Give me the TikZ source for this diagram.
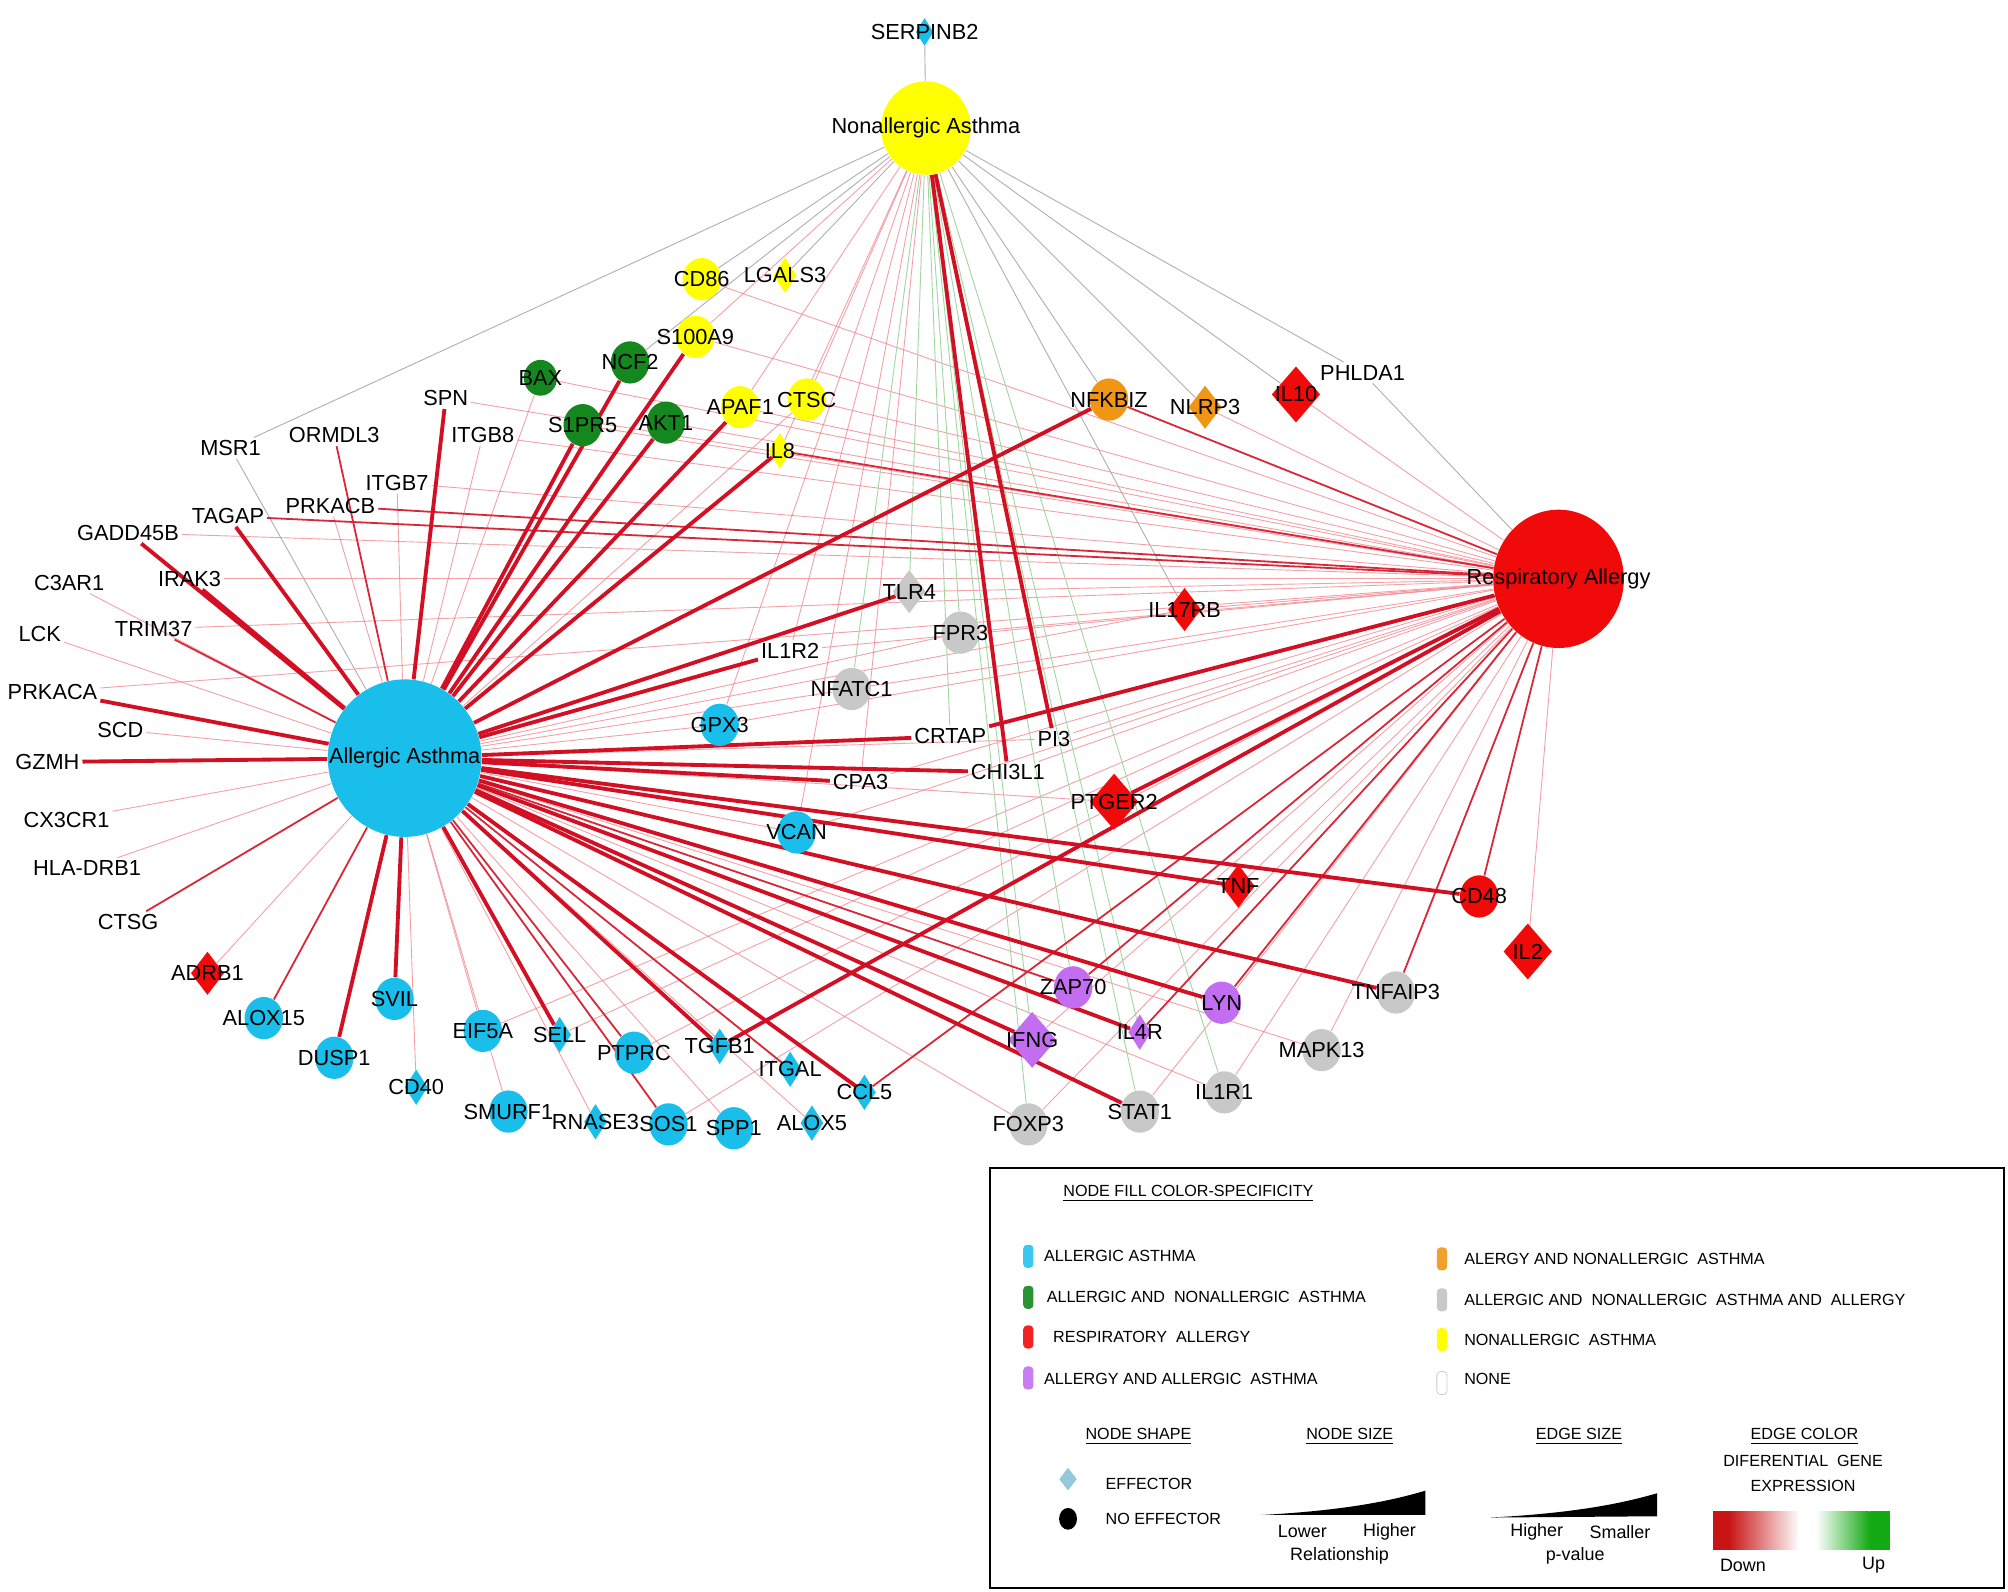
\documentclass[tikz,border=0pt]{standalone}
\usepackage{fontspec}
\setmainfont{Liberation Sans}
\usetikzlibrary{shapes.geometric}
\pgfdeclarelayer{bg}
\pgfsetlayers{bg,main}
\definecolor{cAA}{RGB}{25,190,235}
\definecolor{cGR}{RGB}{20,135,30}
\definecolor{cRD}{RGB}{240,10,10}
\definecolor{cPU}{RGB}{195,110,240}
\definecolor{cOR}{RGB}{240,150,20}
\definecolor{cGY}{RGB}{200,200,200}
\definecolor{cYE}{RGB}{255,255,0}
\definecolor{eR}{RGB}{210,15,35}
\definecolor{eP}{RGB}{240,120,130}
\definecolor{eG}{RGB}{175,175,175}
\definecolor{eGr}{RGB}{160,215,160}
\definecolor{gDown}{RGB}{200,20,20}
\definecolor{gUp}{RGB}{20,170,20}
\definecolor{effB}{RGB}{150,200,220}
\newcommand{\gnd}[4]{\node[#4] (#1) at (#2) {}; \node[lbl] (#1-l) at (#1.center) {#3};}
\begin{document}
\begin{tikzpicture}[x=0.5pt,y=-0.5pt,
  lbl/.style={font=\fontsize{8.5}{10}\selectfont, inner sep=1pt},
  lg/.style={font=\fontsize{6.3}{7}\selectfont, inner sep=0pt},
  lgs/.style={font=\fontsize{7}{8}\selectfont, inner sep=0pt},
  circ/.style={ellipse, minimum width=15pt, minimum height=16.5pt, inner sep=0pt, fill=#1},
  csm/.style={ellipse, minimum width=13pt, minimum height=14pt, inner sep=0pt, fill=#1},
  dsm/.style={diamond, minimum width=9pt, minimum height=14pt, inner sep=0pt, fill=#1},
  dmd/.style={diamond, minimum width=13pt, minimum height=17pt, inner sep=0pt, fill=#1},
  dbg/.style={diamond, minimum width=19pt, minimum height=22pt, inner sep=0pt, fill=#1},
  thk/.style={draw=eR, line width=1.5pt},
  med/.style={draw=eR!90, line width=0.7pt},
  thn/.style={draw=eP, line width=0.35pt, opacity=0.7},
  gry/.style={draw=eG, line width=0.35pt},
  grn/.style={draw=eGr, line width=0.35pt},
  swatch/.style={rounded corners=1.5pt, minimum width=4pt, minimum height=9pt, inner sep=0pt}]
\useasboundingbox (0,0) rectangle (1568,1243);
\begin{pgfonlayer}{bg}
\fill[white] (0,0) rectangle (1568,1243);
\end{pgfonlayer}

% hubs
\node[ellipse, fill=cYE, minimum width=35pt, minimum height=36.5pt, inner sep=0pt] (NA) at (723,100) {};
\node[lbl] (NA-l) at (NA.center) {Nonallergic Asthma};
\node[ellipse, fill=cAA, minimum width=60pt, minimum height=61.5pt, inner sep=0pt] (AA) at (316,592) {};
\node[lbl] (AA-l) at (AA.center) {Allergic Asthma};
\node[ellipse, fill=cRD, minimum width=51pt, minimum height=54pt, inner sep=0pt] (RA) at (1217,452) {};
\node[lbl] (RA-l) at (RA.center) {Respiratory Allergy};

% label-only nodes
\node[lbl] (PHLDA1) at (1064,291) {PHLDA1};
\node[lbl] (MSR1) at (180,350) {MSR1};
\node[lbl] (ORMDL3) at (261,340) {ORMDL3};
\node[lbl] (SPN) at (348,311) {SPN};
\node[lbl] (ITGB8) at (377,340) {ITGB8};
\node[lbl] (ITGB7) at (310,377) {ITGB7};
\node[lbl] (PRKACB) at (258,395) {PRKACB};
\node[lbl] (TAGAP) at (178,403) {TAGAP};
\node[lbl] (GADD45B) at (100,416) {GADD45B};
\node[lbl] (C3AR1) at (54,455) {C3AR1};
\node[lbl] (IRAK3) at (148,452) {IRAK3};
\node[lbl] (TRIM37) at (120,491) {TRIM37};
\node[lbl] (LCK) at (31,495) {LCK};
\node[lbl] (PRKACA) at (41,540) {PRKACA};
\node[lbl] (SCD) at (94,570) {SCD};
\node[lbl] (GZMH) at (37,595) {GZMH};
\node[lbl] (CX3CR1) at (52,640) {CX3CR1};
\node[lbl] (HLADRB1) at (68,678) {HLA-DRB1};
\node[lbl] (CTSG) at (100,720) {CTSG};
\node[lbl] (IL1R2) at (617,508) {IL1R2};
\node[lbl] (CRTAP) at (742,575) {CRTAP};
\node[lbl] (PI3) at (823,577) {PI3};
\node[lbl] (CHI3L1) at (787,603) {CHI3L1};
\node[lbl] (CPA3) at (672,611) {CPA3};

% shaped nodes
\gnd{SERPINB2}{722,25}{SERPINB2}{diamond, minimum width=7pt, minimum height=11pt, inner sep=0pt, fill=cAA}
\gnd{CD86}{548,218}{CD86}{circ=cYE}
\gnd{LGALS3}{613,215}{LGALS3}{dsm=cYE}
\gnd{S100A9}{543,263}{S100A9}{circ=cYE}
\gnd{APAF1}{578,318}{APAF1}{circ=cYE}
\gnd{CTSC}{630,312}{CTSC}{circ=cYE}
\gnd{IL8}{609,352}{IL8}{dsm=cYE}
\gnd{BAX}{422,295}{BAX}{csm=cGR}
\gnd{NCF2}{492,283}{NCF2}{circ=cGR}
\gnd{S1PR5}{455,332}{S1PR5}{circ=cGR}
\gnd{AKT1}{520,330}{AKT1}{circ=cGR}
\gnd{NFKBIZ}{866,312}{NFKBIZ}{circ=cOR}
\gnd{NLRP3}{941,318}{NLRP3}{dmd=cOR}
\gnd{IL10}{1012,308}{IL10}{dbg=cRD}
\gnd{IL17RB}{925,476}{IL17RB}{dmd=cRD}
\gnd{PTGER2}{870,626}{PTGER2}{dbg=cRD}
\gnd{TNF}{967,692}{TNF}{dmd=cRD}
\gnd{CD48}{1155,700}{CD48}{circ=cRD}
\gnd{IL2}{1193,743}{IL2}{dbg=cRD}
\gnd{ADRB1}{162,760}{ADRB1}{dmd=cRD}
\gnd{TLR4}{710,462}{TLR4}{dmd=cGY}
\gnd{FPR3}{750,494}{FPR3}{circ=cGY}
\gnd{NFATC1}{665,538}{NFATC1}{circ=cGY}
\gnd{TNFAIP3}{1090,775}{TNFAIP3}{circ=cGY}
\gnd{MAPK13}{1032,820}{MAPK13}{circ=cGY}
\gnd{IL1R1}{956,853}{IL1R1}{circ=cGY}
\gnd{STAT1}{890,868}{STAT1}{circ=cGY}
\gnd{FOXP3}{803,878}{FOXP3}{circ=cGY}
\gnd{ZAP70}{838,771}{ZAP70}{circ=cPU}
\gnd{LYN}{954,783}{LYN}{circ=cPU}
\gnd{IFNG}{806,812}{IFNG}{dbg=cPU}
\gnd{IL4R}{890,806}{IL4R}{dsm=cPU}
\gnd{GPX3}{562,566}{GPX3}{circ=cAA}
\gnd{VCAN}{622,650}{VCAN}{circ=cAA}
\gnd{ALOX15}{206,795}{ALOX15}{circ=cAA}
\gnd{SVIL}{308,780}{SVIL}{circ=cAA}
\gnd{DUSP1}{261,826}{DUSP1}{circ=cAA}
\gnd{EIF5A}{377,805}{EIF5A}{circ=cAA}
\gnd{SELL}{437,808}{SELL}{dsm=cAA}
\gnd{PTPRC}{495,822}{PTPRC}{circ=cAA}
\gnd{TGFB1}{562,817}{TGFB1}{dsm=cAA}
\gnd{ITGAL}{617,835}{ITGAL}{dsm=cAA}
\gnd{CCL5}{675,853}{CCL5}{dsm=cAA}
\gnd{CD40}{325,849}{CD40}{dsm=cAA}
\gnd{SMURF1}{397,868}{SMURF1}{circ=cAA}
\gnd{RNASE3}{465,876}{RNASE3}{dsm=cAA}
\gnd{SOS1}{522,878}{SOS1}{circ=cAA}
\gnd{SPP1}{573,881}{SPP1}{circ=cAA}
\gnd{ALOX5}{634,877}{ALOX5}{dsm=cAA}

% edges
\begin{pgfonlayer}{bg}
\foreach \t in {C3AR1,LCK,SCD,CX3CR1,HLADRB1,ITGB8,ITGB7,PRKACB,BAX,CTSC,FPR3,NFATC1,GPX3,VCAN,EIF5A,CD40,ADRB1,SMURF1,RNASE3,SPP1,ALOX5,MAPK13,IL1R1,FOXP3,IL17RB,PI3,PTGER2}
  \draw[thn] (AA) -- (\t);
\foreach \t in {IL10,NLRP3,IL17RB,TLR4,FPR3,NFATC1,IL1R2,PI3,CHI3L1,GPX3,VCAN,TNF,IL2,MAPK13,IL1R1,STAT1,FOXP3,IFNG,ITGB7,SPN,GADD45B,TRIM37,PRKACA,APAF1,S100A9,CD86,AKT1,S1PR5,BAX,CTSC,ITGB8,IRAK3,SELL,PTPRC,EIF5A,CPA3,SOS1}
  \draw[thn] (RA) -- (\t);
\foreach \t in {CTSC,IL8,APAF1,IL1R2,S100A9,GPX3,CPA3,VCAN}
  \draw[thn] (NA) -- (\t);
\draw[gry] (AA) -- (MSR1);
\draw[gry] (RA) -- (PHLDA1);
\foreach \t in {MSR1,PHLDA1,IL10,NLRP3,NFKBIZ,SERPINB2,CD86,LGALS3,NCF2,IL17RB}
  \draw[gry] (NA) -- (\t);
\foreach \t in {TLR4,FPR3,NFATC1,FOXP3,IFNG,ZAP70,STAT1,IL1R1,CRTAP,IL4R}
  \draw[grn] (NA) -- (\t);
\foreach \t in {TRIM37,CTSG,ALOX15,PTPRC,ITGAL,SOS1,ORMDL3,ZAP70}
  \draw[med] (AA) -- (\t);
\foreach \t in {PRKACB,TAGAP,IL8,CD48,TNFAIP3,LYN,IL4R,CCL5,ZAP70,NFKBIZ}
  \draw[med] (RA) -- (\t);
\foreach \t in {TAGAP,GADD45B,IRAK3,PRKACA,GZMH,SPN,S1PR5,NCF2,S100A9,AKT1,APAF1,IL8,NFKBIZ,TLR4,IL1R2,CRTAP,CHI3L1,CPA3,CD48,TNF,TNFAIP3,LYN,IL4R,IFNG,STAT1,CCL5,TGFB1,SELL,SVIL,DUSP1}
  \draw[thk] (AA) -- (\t);
\foreach \t in {PTGER2,CRTAP,TGFB1}
  \draw[thk] (RA) -- (\t);
\foreach \t in {CHI3L1,PI3}
  \draw[thk] (NA) -- (\t);
\end{pgfonlayer}

% legend
\draw[black, line width=0.6pt] (773,912) rectangle (1565,1240);
\node[lg] (t1) at (928,932) {\underline{NODE FILL COLOR-SPECIFICITY}};
\node[swatch, fill=cAA!85] (s1) at (803,981) {};
\node[swatch, fill=cGR!90] (s2) at (803,1013) {};
\node[swatch, fill=cRD!90] (s3) at (803,1044) {};
\node[swatch, fill=cPU!90] (s4) at (803,1076) {};
\node[swatch, fill=cOR!90] (s5) at (1126,983) {};
\node[swatch, fill=cGY] (s6) at (1126,1015) {};
\node[swatch, fill=cYE] (s7) at (1126,1046) {};
\node[swatch, draw=gray!40, fill=white, line width=0.3pt] (s8) at (1126,1080) {};
\node[lg, anchor=west] (l1) at (815,981) {ALLERGIC ASTHMA};
\node[lg, anchor=west] (l2) at (817,1013) {ALLERGIC AND \ NONALLERGIC \ ASTHMA};
\node[lg, anchor=west] (l3) at (822,1044) {RESPIRATORY \ ALLERGY};
\node[lg, anchor=west] (l4) at (815,1077) {ALLERGY AND ALLERGIC \ ASTHMA};
\node[lg, anchor=west] (l5) at (1143,983) {ALERGY AND NONALLERGIC \ ASTHMA};
\node[lg, anchor=west] (l6) at (1143,1015) {ALLERGIC AND \ NONALLERGIC \ ASTHMA AND \ ALLERGY};
\node[lg, anchor=west] (l7) at (1143,1046) {NONALLERGIC \ ASTHMA};
\node[lg, anchor=west] (l8) at (1143,1077) {NONE};
\node[lg] (t2) at (889,1122) {\underline{NODE SHAPE}};
\node[lg] (t3) at (1054,1122) {\underline{NODE SIZE}};
\node[lg] (t4) at (1233,1122) {\underline{EDGE SIZE}};
\node[lg] (t5) at (1409,1122) {\underline{EDGE COLOR}};
\node[lg] (t6) at (1408,1141) {DIFERENTIAL \ GENE};
\node[lg] (t7) at (1408,1160) {EXPRESSION};
\node[diamond, fill=effB, minimum width=7pt, minimum height=9pt, inner sep=0pt] (eff) at (834,1155) {};
\node[lg, anchor=west] (efft) at (863,1159) {EFFECTOR};
\node[ellipse, fill=black, minimum width=7pt, minimum height=8.5pt, inner sep=0pt] (neff) at (834,1186) {};
\node[lg, anchor=west] (nefft) at (863,1186) {NO EFFECTOR};
\fill[black] (985,1183) .. controls (1040,1180) and (1080,1174) .. (1113,1164) -- (1113,1183) -- cycle;
\fill[black] (1164,1185) .. controls (1220,1182) and (1260,1176) .. (1294,1166) -- (1294,1184) -- cycle;
\node[lgs] (lo) at (1017,1196) {Lower};
\node[lgs] (hi) at (1085,1196) {Higher};
\node[lgs] (rel) at (1046,1215) {Relationship};
\node[lgs] (hi2) at (1200,1196) {Higher};
\node[lgs] (sm) at (1265,1196) {Smaller};
\node[lgs] (pv) at (1230,1215) {p-value};
\fill[gDown] (1338,1180) rectangle (1350,1210);
\shade[left color=gDown, right color=white] (1350,1180) rectangle (1405,1210);
\fill[white] (1405,1180) rectangle (1418,1210);
\shade[left color=white, right color=gUp] (1418,1180) rectangle (1460,1210);
\fill[gUp] (1460,1180) rectangle (1476,1210);
\node[lgs] (dn) at (1361,1222) {Down};
\node[lgs] (up) at (1463,1222) {Up};
\end{tikzpicture}
\end{document}
